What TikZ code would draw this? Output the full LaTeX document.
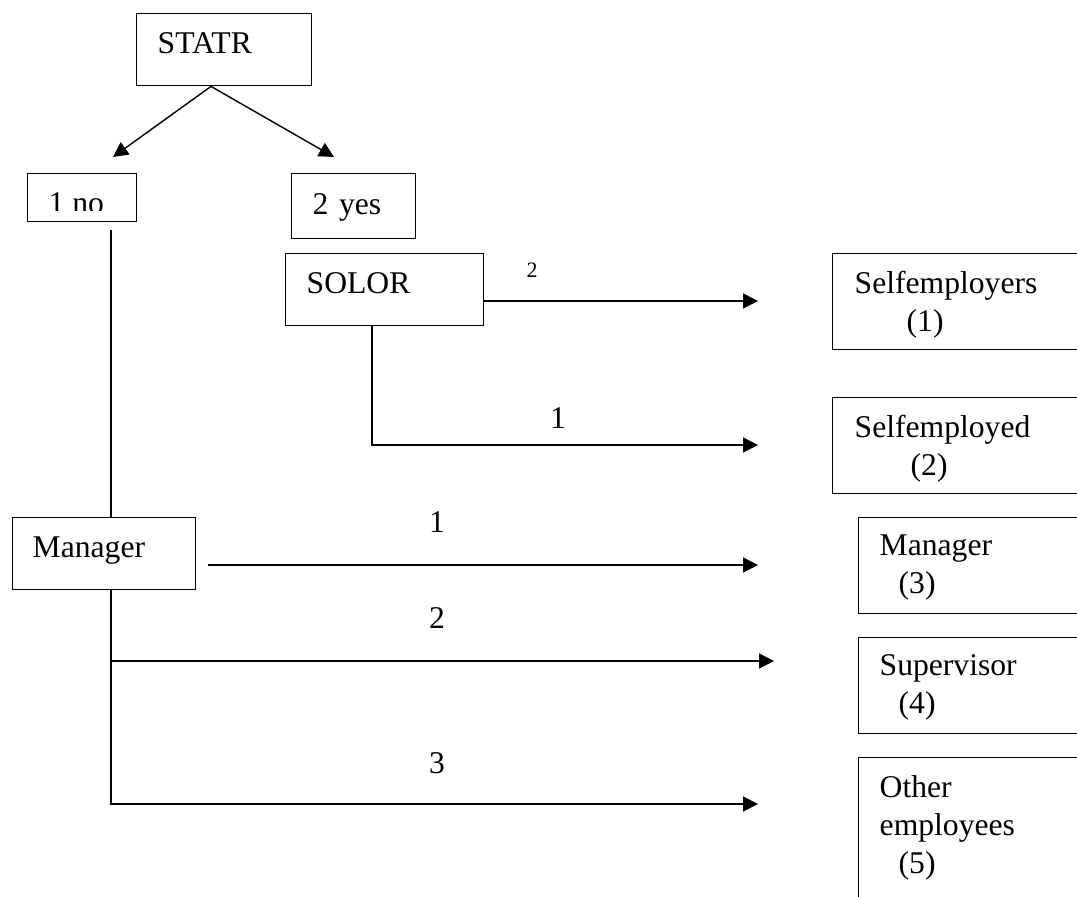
\documentclass[tikz,border=0pt]{standalone}
\usepackage{fontspec}
\setmainfont{Liberation Serif}
\usetikzlibrary{arrows.meta}

\begin{document}
\begin{tikzpicture}[
  x=0.02cm, y=-0.02cm,
  line width=.8pt,
  font=\fontsize{18}{21.5}\selectfont,
  >={Triangle[length=.3cm, width=.3cm]},
  box/.style={draw, anchor=north west, inner xsep=.42cm, inner ysep=0pt, align=left},
  num/.style={inner sep=0pt}]

  \useasboundingbox (0,0) rectangle (1077,896);

  \node[box, text width=2.66cm, text height=.8cm, text depth=.64cm](statr) at (136,13){STATR};
  \node[box, minimum width=2.18cm, minimum height=.96cm](no) at (27,173){};
  \begin{scope}
    \clip (27,173) rectangle (136,210);
    \node[num, anchor=base west](notext) at (48,213){1 no};
  \end{scope}
  \node[box, text width=1.64cm, text height=.82cm, text depth=.48cm](yes) at (291,173){2 yes};
  \node[box, text width=3.12cm, text height=.8cm, text depth=.64cm](solor) at (285,253){SOLOR};
  \node[box, inner xsep=.4cm, text width=2.86cm, text height=.8cm, text depth=.64cm](man) at (12,517){Manager};

  \node[box, inner xsep=.44cm, text width=4.48cm, text height=.8cm, text depth=1.12cm](emp1) at (832,253)
    {Selfemployers\\\hspace*{1.04cm}(1)};
  \node[box, inner xsep=.44cm, text width=4.48cm, text height=.8cm, text depth=1.12cm](emp2) at (832,397)
    {Selfemployed\\\hspace*{1.12cm}(2)};
  \node[box, text width=4cm, text height=.76cm, text depth=1.16cm](emp3) at (858,517)
    {Manager\\\hspace*{.38cm}(3)};
  \node[box, text width=4cm, text height=.76cm, text depth=1.16cm](emp4) at (858,637)
    {Supervisor\\\hspace*{.38cm}(4)};
  \node[box, text width=4cm, text height=.8cm, text depth=2.46cm](emp5) at (858,757)
    {Other\\employees\\\hspace*{.38cm}(5)};

  \coordinate (a1) at (113,157);
  \coordinate (a2) at (334,157);
  \coordinate (t1) at (758,301);
  \coordinate (t2) at (758,445);
  \coordinate (t3) at (758,565);
  \coordinate (t4) at (774,661);
  \coordinate (t5) at (758,804);
  \coordinate (j) at (111,661);

  \draw[->] (statr.south -| 211,0) -- (a1);
  \draw[->] (statr.south -| 211,0) -- (a2);
  \draw[shorten <=.16cm] (no.south -| 111,0) -- (man.north -| 111,0);
  \draw[->] (solor.east |- 0,301) -- (t1);
  \draw[->] (solor.south -| 372,0) |- (t2);
  \draw[->, shorten <=.24cm] (man.east |- 0,565) -- (t3);
  \draw[->] (man.south -| 111,0) |- (t5);
  \draw[->] (j) -- (t4);

  \node[num, font=\fontsize{12.5}{15}\selectfont](l1) at (532,270){2};
  \node[num](l2) at (558,418){1};
  \node[num](l3) at (437,522){1};
  \node[num](l4) at (437,618){2};
  \node[num](l5) at (437,763){3};
\end{tikzpicture}
\end{document}
